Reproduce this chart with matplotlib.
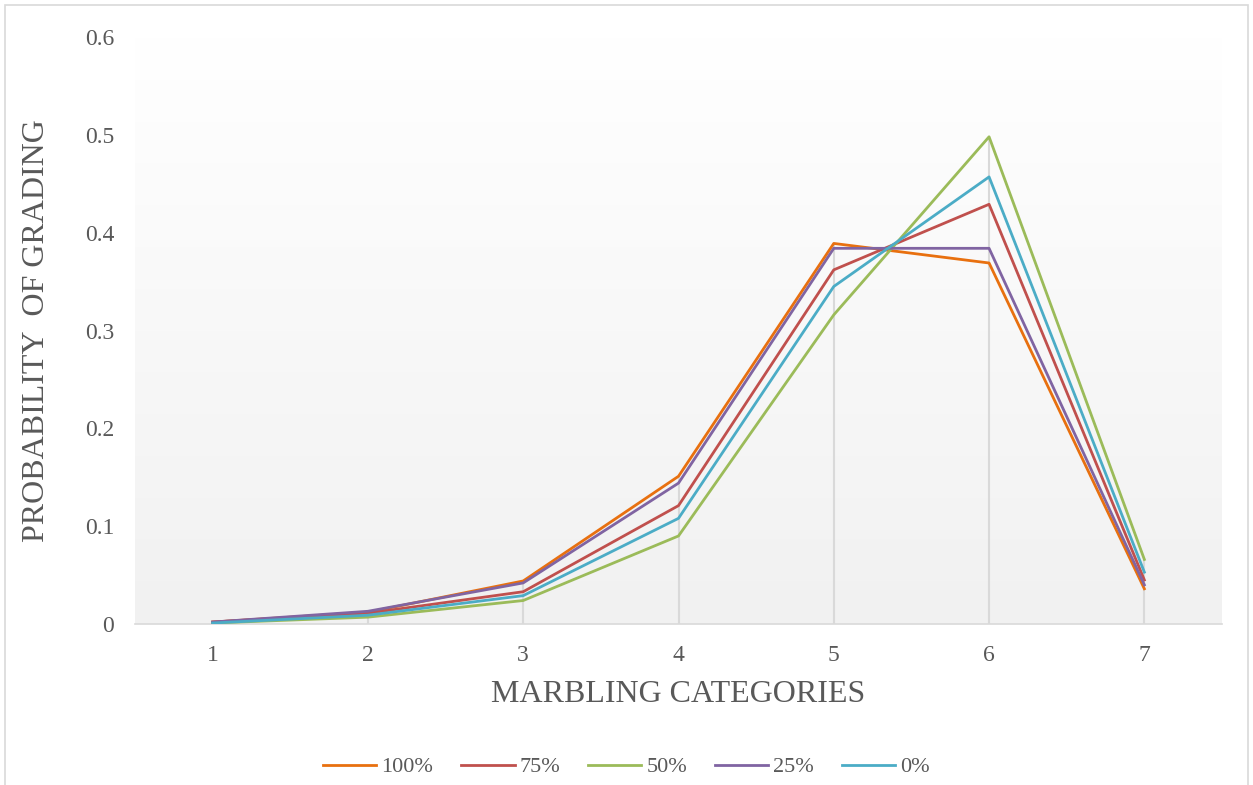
import numpy as np
import matplotlib
matplotlib.use('Agg')
import matplotlib.pyplot as plt
from matplotlib.patches import Rectangle

categories = [1, 2, 3, 4, 5, 6, 7]
p100 = [0.002, 0.012, 0.044, 0.151, 0.389, 0.369, 0.036]
p75 = [0.002, 0.011, 0.033, 0.121, 0.362, 0.429, 0.045]
p50 = [0.001, 0.007, 0.024, 0.090, 0.316, 0.498, 0.066]
p25 = [0.002, 0.013, 0.042, 0.144, 0.384, 0.384, 0.040]
p0 = [0.001, 0.009, 0.029, 0.108, 0.345, 0.457, 0.053]

series = [('100%', p100, '#E8700F'),
          ('75%', p75, '#C0504D'),
          ('50%', p50, '#9BBB59'),
          ('25%', p25, '#8064A2'),
          ('0%', p0, '#4BACC6')]

plt.rcParams['font.family'] = ['Liberation Serif', 'DejaVu Serif']
txt = '#595959'

fig = plt.figure(figsize=(12.53, 7.85), dpi=100)
ax = fig.add_axes([135/1253, 1 - 624/785, (1222-135)/1253, (624-37)/785])

# gradient background, white at top to light grey at bottom
grad = np.linspace(0, 1, 256).reshape(-1, 1)
ax.imshow(grad, extent=[0, 1, 0, 1], transform=ax.transAxes, aspect='auto',
          cmap=matplotlib.colors.LinearSegmentedColormap.from_list('g', ['#f1f1f1', '#ffffff']),
          origin='lower', zorder=0)

# drop lines
tops = np.max([s[1] for s in series], axis=0)
ax.vlines(categories, 0, tops, color='#d9d9d9', lw=1.5, zorder=1)

for name, vals, col in series:
    ax.plot(categories, vals, color=col, lw=2.0, label=name, zorder=3)

ax.set_xlim(0.5, 7.5)
ax.set_ylim(0, 0.6)
ax.set_xticks(categories)
ax.set_yticks([0, 0.1, 0.2, 0.3, 0.4, 0.5, 0.6])
ax.set_yticklabels(['0', '0.1', '0.2', '0.3', '0.4', '0.5', '0.6'])
ax.tick_params(length=0, labelsize=17, colors=txt)
ax.tick_params(axis='x', pad=15)
ax.tick_params(axis='y', pad=15)
for s in ['top', 'right', 'left']:
    ax.spines[s].set_visible(False)
ax.spines['bottom'].set_color('#d9d9d9')
ax.spines['bottom'].set_linewidth(1.2)

ax.set_xlabel('MARBLING CATEGORIES', fontsize=23, color=txt, labelpad=10)
ax.set_ylabel('PROBABILITY  OF GRADING', fontsize=23, color=txt, labelpad=24)

leg = fig.legend(loc='center', bbox_to_anchor=(0.5, 1 - 767/785), ncol=5,
                 frameon=False, fontsize=16, handlelength=2.4, columnspacing=1.26,
                 handletextpad=0.22)
for t in leg.get_texts():
    t.set_color(txt)

fig.patches.append(Rectangle((5/1253, -0.01), 1243/1253, 1 - 5/785 + 0.01,
                             transform=fig.transFigure, fill=False,
                             edgecolor='#d9d9d9', lw=1.2))

fig.savefig('out.png', dpi=100)
